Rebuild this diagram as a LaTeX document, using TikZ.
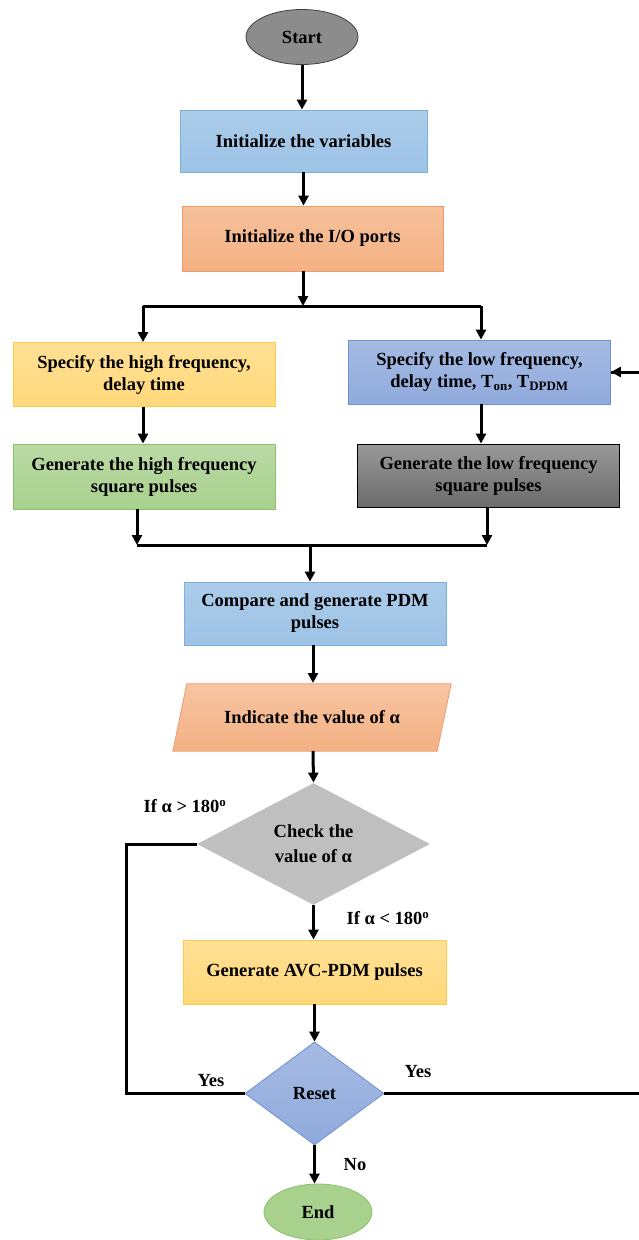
\documentclass[tikz,border=0pt]{standalone}
\usepackage{fontspec}
\setmainfont{Liberation Serif}
\usetikzlibrary{positioning,arrows.meta,shapes.geometric,backgrounds}

\definecolor{lblue}{HTML}{9DC3E6}
\definecolor{lblueb}{HTML}{7DAEDC}
\definecolor{salmon}{HTML}{F4B183}
\definecolor{salmonb}{HTML}{EC9C6E}
\definecolor{lyel}{HTML}{FFD87A}
\definecolor{lyelb}{HTML}{FFC94A}
\definecolor{mblue}{HTML}{8FAADC}
\definecolor{mblueb}{HTML}{6F8FCF}
\definecolor{lgreen}{HTML}{A9D18E}
\definecolor{lgreenb}{HTML}{8CC06F}

\begin{document}
\begin{tikzpicture}[
  x=1pt, y=-1pt,
  font=\fontsize{18.5}{22}\selectfont\bfseries,
  >={Triangle[length=10pt,width=10pt]},
  box/.style      = {rectangle, line width=0.8pt, align=center,
                     minimum width=262pt, minimum height=64pt, inner sep=2pt},
  term/.style     = {ellipse, line width=0.8pt, minimum width=112pt,
                     minimum height=55pt, inner sep=0pt},
  decide/.style   = {diamond, line width=0.8pt, align=center, inner sep=0pt},
  flow/.style     = {->, line width=3pt, black},
  wire/.style     = {line width=3pt, black},
  tag/.style      = {inner sep=1pt},
]
\useasboundingbox (0,0) rectangle (638,1240);

% Start, init boxes
\node[term, draw=black!75, fill=black!45] (start) at (302,37) {Start};
\node[box, draw=lblueb, top color=lblue!85, bottom color=lblue, minimum width=247pt,
      minimum height=62pt] (vars) at (303.5,141) {Initialize the variables};
\node[box, draw=salmonb, top color=salmon!80, bottom color=salmon, minimum width=261pt,
      minimum height=65pt] (io) at (312.5,238.5) {Initialize the I/O ports};

% Split into two branches
\coordinate (split) at (303,306);
\coordinate (splitl) at (143,306);
\coordinate (splitr) at (481,306);

\node[box, draw=lyelb, top color=lyel!80, bottom color=lyel] (hfreq) at (144,374.5)
  {Specify the high frequency,\\ delay time};
\node[box, draw=mblueb, top color=mblue!80, bottom color=mblue] (lfreq) at (479.5,372)
  {Specify the low frequency,\\ delay time, T\textsubscript{on}, T\textsubscript{DPDM}};
\node[box, draw=lgreenb, top color=lgreen!80, bottom color=lgreen, minimum height=65pt]
  (hgen) at (144,476.5) {Generate the high frequency\\ square pulses};
\node[box, draw=black, top color=black!40, bottom color=black!58, minimum height=63pt]
  (lgen) at (488.5,475.5) {Generate the low frequency\\ square pulses};

% Merge of the two branches
\coordinate (mergel) at (137,545);
\coordinate (merger) at (487,545);
\coordinate (merge) at (310,545);

\node[box, draw=lblueb, top color=lblue!85, bottom color=lblue, minimum height=63pt]
  (pdm) at (315,613.5) {Compare and generate PDM\\ pulses};
% parallelogram: text node, outline drawn behind it
\node[rectangle, minimum width=250pt, minimum height=67pt, inner sep=0pt]
  (alpha) at (312,717.5) {Indicate the value of α};
\begin{pgfonlayer}{background}
  \path[draw=salmonb, top color=salmon!75, bottom color=salmon, line width=0.8pt]
    ([xshift=-14pt]alpha.south west) -- (alpha.north west) -- ([xshift=14pt]alpha.north east)
    -- (alpha.south east) -- cycle;
\end{pgfonlayer}

% Decisions
\node[decide, fill=black!25, minimum width=233pt, minimum height=122pt,
      font=\fontsize{18.5}{25}\selectfont\bfseries] (check) at (313.5,844)
  {Check the\\ value of α};
\node[box, draw=lyelb, top color=lyel!80, bottom color=lyel, minimum width=263pt]
  (avc) at (314.5,972) {Generate AVC-PDM pulses};
\node[decide, draw=mblueb, top color=mblue!80, bottom color=mblue, minimum width=139pt,
      minimum height=103pt] (reset) at (314.5,1093.5) {Reset};
\node[term, draw=lgreenb, fill=lgreen, minimum width=108pt, minimum height=56pt]
  (end) at (318,1212) {End};

\coordinate (loopl) at (126,844);
\coordinate (loopr) at (640,1093.5);

% Connectors
\draw[flow] (start) -- (start |- vars.north);
\draw[flow] (vars) -- (vars |- io.north);
\draw[flow] (split |- io.south) -- (split);
\draw[wire] (splitl) -- (splitr);
\draw[flow] (splitl) -- (splitl |- hfreq.north);
\draw[flow] (splitr) -- (splitr |- lfreq.north);
\draw[flow] (splitl |- hfreq.south) -- (splitl |- hgen.north);
\draw[flow] (splitr |- lfreq.south) -- (splitr |- lgen.north);
\draw[flow] (mergel |- hgen.south) -- (mergel);
\draw[flow] (merger |- lgen.south) -- (merger);
\draw[wire] (mergel) -- (merger);
\draw[flow] (merge) -- (merge |- pdm.north);
\draw[flow] (313,645) -- (313,683);
\draw[flow] (313,751) -- (check.north);
\draw[flow] (check) -- (check |- avc.north);
\draw[flow] (avc) -- (avc |- reset.north);
\draw[flow] (reset) -- (reset |- end.north);
\draw[wire] (check.west) -- (loopl) |- (reset.west);
\draw[wire] (reset.east) -- (loopr) |- (lfreq.east);
\draw[flow] (lfreq.east -| 638,0) -- (lfreq.east);

% Labels
\node[tag] (gt) at (185,806) {If α > 180\textsuperscript{o}};
\node[tag] (lt) at (388,918) {If α < 180\textsuperscript{o}};
\node[tag] (yesl) at (211,1081) {Yes};
\node[tag] (yesr) at (418,1072) {Yes};
\node[tag] (no) at (355,1165) {No};
\end{tikzpicture}
\end{document}
